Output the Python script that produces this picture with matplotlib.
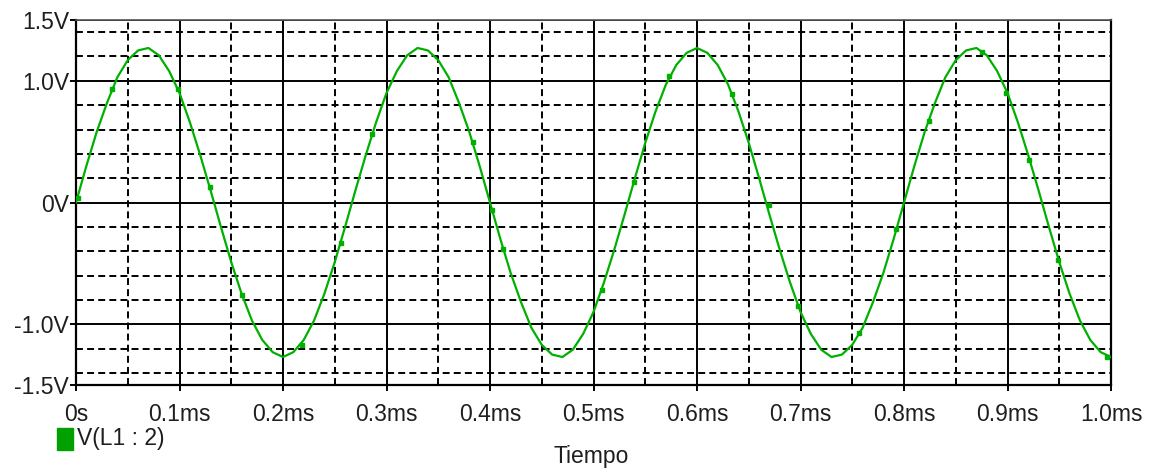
import numpy as np
import matplotlib
matplotlib.use("Agg")
from matplotlib import pyplot as plt
from matplotlib.patches import Rectangle

plt.rcParams['font.family'] = ['Liberation Sans', 'DejaVu Sans']
plt.rcParams['lines.scale_dashes'] = False

# V(L1 : 2), one sample every 0.01 ms
t_ms = [k / 100 for k in range(101)]
v_l1 = [0.00, 0.30, 0.58, 0.82, 1.03, 1.17, 1.25, 1.27, 1.21, 1.08,
        0.90, 0.66, 0.39, 0.10, -0.20, -0.49, -0.75, -0.97, -1.13, -1.23,
        -1.27, -1.23, -1.13, -0.97, -0.75, -0.49, -0.20, 0.10, 0.39, 0.66,
        0.90, 1.08, 1.21, 1.27, 1.25, 1.17, 1.03, 0.82, 0.58, 0.30,
        0.00, -0.30, -0.58, -0.82, -1.03, -1.17, -1.25, -1.27, -1.21, -1.08,
        -0.90, -0.66, -0.39, -0.10, 0.20, 0.49, 0.75, 0.97, 1.13, 1.23,
        1.27, 1.23, 1.13, 0.97, 0.75, 0.49, 0.20, -0.10, -0.39, -0.66,
        -0.90, -1.08, -1.21, -1.27, -1.25, -1.17, -1.03, -0.82, -0.58, -0.30,
        0.00, 0.30, 0.58, 0.82, 1.03, 1.17, 1.25, 1.27, 1.21, 1.08,
        0.90, 0.66, 0.39, 0.10, -0.20, -0.49, -0.75, -0.97, -1.13, -1.23,
        -1.27]

# the little square markers along the trace
mark_t = [0.002, 0.035, 0.099, 0.129, 0.160, 0.218, 0.256, 0.286, 0.384,
          0.402, 0.413, 0.508, 0.539, 0.573, 0.634, 0.670, 0.698, 0.757,
          0.792, 0.824, 0.875, 0.899, 0.921, 0.949, 0.996]
mark_v = [0.04, 0.93, 0.93, 0.13, -0.76, -1.17, -0.33, 0.56, 0.50,
          -0.06, -0.38, -0.72, 0.17, 1.04, 0.89, -0.02, -0.85, -1.07,
          -0.22, 0.67, 1.24, 0.90, 0.35, -0.47, -1.27]

x_ticks = [0.0, 0.1, 0.2, 0.3, 0.4, 0.5, 0.6, 0.7, 0.8, 0.9, 1.0]
x_labels = ["0s", "0.1ms", "0.2ms", "0.3ms", "0.4ms", "0.5ms",
            "0.6ms", "0.7ms", "0.8ms", "0.9ms", "1.0ms"]
x_minor = [0.05, 0.15, 0.25, 0.35, 0.45, 0.55, 0.65, 0.75, 0.85, 0.95]
y_ticks = [-1.5, -1.0, 0.0, 1.0, 1.5]
y_labels = ["-1.5V", "-1.0V", "0V", "1.0V", "1.5V"]
y_minor = [-1.4, -1.2, -0.8, -0.6, -0.4, -0.2, 0.2, 0.4, 0.6, 0.8, 1.2, 1.4]

green = "#00b000"
txt = "#1e1e1e"

fig = plt.figure(figsize=(11.56, 4.72), dpi=100)
ax = fig.add_axes([76 / 1156, 87 / 472, 1035 / 1156, 365 / 472])

ax.plot(t_ms, v_l1, color=green, lw=1.6, zorder=5)
ax.plot(mark_t, mark_v, ls="none", marker="s", ms=3.5, color=green, zorder=6)

ax.set_xlim(0, 1.0)
ax.set_ylim(-1.5, 1.5)
ax.set_xticks(x_ticks)
ax.set_xticklabels(x_labels)
ax.set_xticks(x_minor, minor=True)
ax.set_yticks(y_ticks)
ax.set_yticklabels(y_labels)
ax.set_yticks(y_minor, minor=True)

ax.grid(which="major", color="black", lw=1.4, ls="-")
ax.grid(which="minor", color="black", lw=1.4, ls=(0, (5.0, 3.0)))
ax.set_axisbelow(True)

ax.tick_params(which="major", length=4, width=1.4, color="black",
               labelsize=16.5, labelcolor=txt)
ax.tick_params(axis="x", which="major", pad=9)
ax.tick_params(axis="y", which="major", pad=1)
ax.tick_params(which="minor", length=0)

for side in ["left", "bottom", "right"]:
    ax.spines[side].set_linewidth(1.6)
    ax.spines[side].set_color("black")
ax.spines["top"].set_linewidth(1.2)
ax.spines["top"].set_color("#555555")

# legend swatch and label, as drawn by the probe window
fig.patches.append(Rectangle((57 / 1156, (472 - 450) / 472), 16 / 1156, 22 / 472,
                             transform=fig.transFigure, color="#00a000"))
fig.text(77 / 1156, (472 - 439) / 472, "V(L1 : 2)", fontsize=16.5, color=txt,
         va="center", ha="left")
fig.text(591 / 1156, (472 - 457) / 472, "Tiempo", fontsize=16.5, color=txt,
         va="center", ha="center")

fig.savefig("out.png", dpi=100)
